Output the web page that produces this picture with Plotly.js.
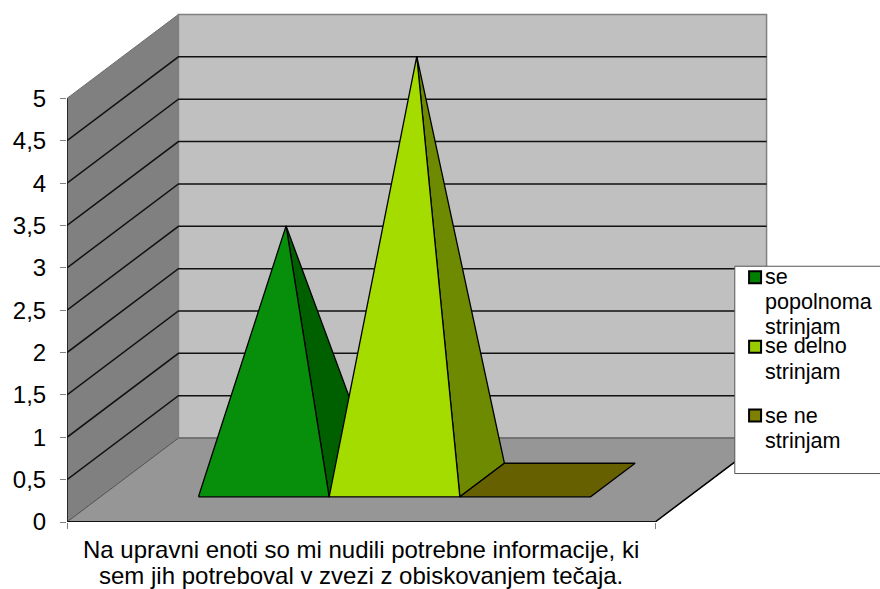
<!DOCTYPE html>
<html>
<head>
<meta charset="utf-8">
<script src="https://cdn.plot.ly/plotly-3.0.1.min.js"></script>
<style>html,body{margin:0;padding:0;background:#fff}</style>
</head>
<body>
<div id="chart" style="width:880px;height:589px"></div>
<script>
// Answer shares for one survey statement
const categoryLines = ['Na upravni enoti so mi nudili potrebne informacije, ki', 'sem jih potreboval v zvezi z obiskovanjem tečaja.'];
const seriesNames = ['se<br>popolnoma<br>strinjam', 'se delno<br>strinjam', 'se ne<br>strinjam'];
const seriesValues = [3, 5, 0];
const tickValues = [0, 0.5, 1, 1.5, 2, 2.5, 3, 3.5, 4, 4.5, 5];
const tickLabels = ['0', '0,5', '1', '1,5', '2', '2,5', '3', '3,5', '4', '4,5', '5'];

const frontColors = ['#078E0A', '#A4DC00', '#666000'];
const sideColors = ['#006000', '#6E8A00', '#666000'];
const legendColors = ['#008000', '#99CC00', '#808000'];

// Canvas and scale: the axes fill the page so the 3D frame fits inside the plot area
const W = 880, H = 589, L = 66.5, B = 66.5;
const SLOTS = 4.5, YMAX = 5;
const unitX = 588.5 / SLOTS, unitY = 84.8;

// Oblique projection of (slot, depth 0..1, value) onto the 2D axes
const DEPTH_X = 111.5 / unitX, DEPTH_Y = 84 / unitY;
const proj = (u, d, v) => [u + d * DEPTH_X, v + d * DEPTH_Y];

function poly(points, fill, line, width, name) {
  const p = points.map(q => proj(q[0], q[1], q[2]));
  return {
    type: 'scatter', mode: 'lines', showlegend: false, hoverinfo: 'skip',
    name: name || '',
    x: p.map(q => q[0]), y: p.map(q => q[1]),
    fill: fill ? 'toself' : 'none', fillcolor: fill || undefined,
    line: { color: line, width: width }
  };
}

const traces = [];
// Walls and floor
traces.push(poly([[0,0,0],[0,1,0],[0,1,YMAX],[0,0,YMAX],[0,0,0]], '#808080', '#6a6a6a', 1, 'side wall'));
traces.push(poly([[0,1,0],[SLOTS,1,0],[SLOTS,1,YMAX],[0,1,YMAX],[0,1,0]], '#C0C0C0', '#808080', 1.5, 'back wall'));
traces.push(poly([[0,0,0],[SLOTS,0,0],[SLOTS,1,0],[0,1,0],[0,0,0]], '#969696', '#555555', 1, 'floor'));
traces.push(poly([[SLOTS,0,0],[SLOTS,1,0]], null, '#000', 1.5, 'floor edge'));
// Gridlines across both walls
tickValues.slice(1, -1).forEach(v => {
  traces.push(poly([[0,0,v],[0,1,v],[SLOTS,1,v]], null, '#111', 1.5, 'grid ' + v));
});

// One pyramid per series; a zero value leaves only its base on the floor
const D0 = 0.3, D1 = 0.7, GAP = 0.75;
seriesValues.forEach((v, i) => {
  const a = GAP + i, b = a + 1, mid = a + 0.5, dm = (D0 + D1) / 2;
  if (v > 0) {
    traces.push(poly([[b,D0,0],[b,D1,0],[mid,dm,v],[b,D0,0]], sideColors[i], '#000', 1.3, seriesNames[i]));
    traces.push(poly([[a,D0,0],[b,D0,0],[mid,dm,v],[a,D0,0]], frontColors[i], '#000', 1.3, seriesNames[i]));
  } else {
    traces.push(poly([[a,D0,0],[b,D0,0],[b,D1,0],[a,D1,0],[a,D0,0]], frontColors[i], '#000', 1.3, seriesNames[i]));
  }
});

// Front axis lines of the frame
traces.push(poly([[0,0,0],[0,0,YMAX]], null, '#111', 1.5, 'value axis'));
traces.push(poly([[0,0,0],[SLOTS,0,0]], null, '#111', 2, 'category axis'));

// Category text and legend panel, placed in pixels
const px = x => (x - L) / (W - L);
const py = y => 1 - y / (H - B);
const box = (x0, y0, x1, y1, fill, color, width) => ({
  type: 'rect', xref: 'paper', yref: 'paper', layer: 'above',
  x0: px(x0), x1: px(x1), y0: py(y0), y1: py(y1),
  fillcolor: fill, line: { color: color, width: width }
});
const label = (x, y, text, size, anchor) => ({
  xref: 'paper', yref: 'paper', x: px(x), y: py(y),
  xanchor: anchor, yanchor: 'middle', align: anchor, showarrow: false,
  text: text, borderpad: 0, font: { size: size, color: '#000' }
});

const shapes = [box(734.7, 266.5, 885, 474, '#fff', '#555', 1)];
const swatchTop = [271.5, 341, 410];
const lineCenters = [[277, 302, 327], [346, 372], [416, 441]];
const annotations = [];
seriesNames.forEach((name, i) => {
  shapes.push(box(749, swatchTop[i], 761, swatchTop[i] + 12, legendColors[i], '#000', 2));
  name.split('<br>').forEach((line, j) => {
    annotations.push(label(764, lineCenters[i][j], line, 21.6, 'left'));
  });
});
categoryLines.forEach((line, j) => {
  annotations.push(label(361, 550 + j * 26.5, line, 24, 'center'));
});

const layout = {
  width: W, height: H, showlegend: false,
  paper_bgcolor: '#fff', plot_bgcolor: 'rgba(0,0,0,0)',
  font: { family: 'Liberation Sans, Arial, sans-serif', size: 24, color: '#000' },
  margin: { l: L, r: 0, t: 0, b: B, pad: 0 },
  xaxis: {
    range: [0, (W - L) / unitX], showgrid: false, zeroline: false, fixedrange: true, showline: false,
    tickvals: [0, SLOTS], ticktext: ['', ''], ticks: 'outside', ticklen: 6, tickcolor: '#808080', tickwidth: 1
  },
  yaxis: {
    range: [0, (H - B) / unitY], showgrid: false, zeroline: false, fixedrange: true, showline: false,
    tickvals: tickValues, ticktext: tickLabels, ticks: 'outside', ticklen: 6, tickcolor: '#808080', tickwidth: 1,
    ticklabelstandoff: 9, tickfont: { size: 24, color: '#000' }
  },
  shapes: shapes, annotations: annotations
};

Plotly.newPlot('chart', traces, layout, { displayModeBar: false, staticPlot: true });
</script>
</body>
</html>
